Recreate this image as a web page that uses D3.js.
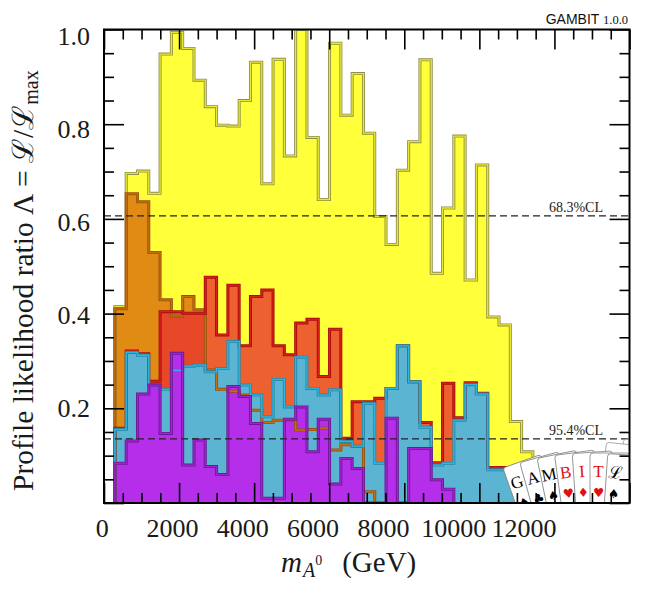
<!DOCTYPE html>
<html><head><meta charset="utf-8">
<script src="https://cdn.jsdelivr.net/npm/d3@7"></script>
<style>body{margin:0;background:#fff} svg{display:block}</style>
</head><body>
<script>
// ---- data ----
const binStart = 290, binWidth = 301;   // GeV, histogram binning
const yellow = [0.415,0.696,0.701,0.654,0.948,0.994,0.960,0.893,0.837,0.798,0.796,0.850,0.931,0.674,0.937,0.733,1.000,0.772,0.641,0.971,0.819,0.907,0.781,0.605,0.546,0.703,0.763,0.936,0.485,0.623,0.775,0.471,0.714,0.393,0.376,0.172,0.108];
const orange = [0.410,0.653,0.636,0.529,0.429,0.395,0.436,0.408,0.281,0.240,0.236,0.228,0.196,0.170,0.175,0.175,0.154,0.155,0.158,0.112,0.123,0.120,0.024,0,0,0,0,0,0,0,0,0,0,0,0,0,0];
const red    = [0.158,0.321,0.315,0.257,0.404,0.404,0.401,0.401,0.477,0.355,0.460,0.332,0.436,0.450,0.332,0.313,0.380,0.388,0.267,0.367,0.137,0.214,0.214,0.221,0.242,0.332,0.256,0.170,0.085,0.253,0.180,0.254,0.232,0.075,0.075,0.042,0];
const blue   = [0.155,0.318,0.312,0.250,0.240,0.280,0.289,0.291,0.277,0.284,0.341,0.249,0.228,0.182,0.261,0.203,0.308,0.242,0.228,0.239,0.130,0.120,0.210,0.084,0.242,0.332,0.256,0.160,0.080,0.084,0.175,0.250,0.230,0.070,0.070,0.040,0];
const purple = [0.084,0.131,0.230,0.249,0.147,0.316,0.080,0.133,0.077,0.060,0.246,0.225,0.168,0.010,0.010,0.177,0.203,0.108,0.177,0.040,0.094,0.073,0,0,0.179,0,0.115,0.115,0.049,0.029,0,0,0,0,0,0,0];
const xMajorTicks = [0,2000,4000,6000,8000,10000,12000,14000];
const xLabels = [0,2000,4000,6000,8000,10000,12000];
const yMajorTicks = [0,0.2,0.4,0.6,0.8,1.0];
const yLabels = [0.2,0.4,0.6,0.8,1.0];
const clLevels = [0.6065,0.1353];
const clNames = ["68.3%CL","95.4%CL"];
const cardLetters = ["G","A","M","B","I","T","ℒ"];
const cardSuits = ["♠","♣","♠","♥","♦","♥","♠"];
const cardRed = [false,false,false,true,true,true,false];

// ---- layout ----
const W = 650, H = 600;
const L = 104, R = 629.5, T = 29.5, B = 503;
const x = d3.scaleLinear().domain([0,14000]).range([L,R]);
const y = d3.scaleLinear().domain([0,1]).range([B,T]);
const xLab = d3.scaleLinear().domain([0,12000]).range([101.7,523.5]);
const yLab = d3.scaleLinear().domain([0,1]).range([500,35]);

const svg = d3.select("body").append("svg").attr("width",W).attr("height",H);
svg.append("defs").append("clipPath").attr("id","clip")
  .append("rect").attr("x",L).attr("y",T).attr("width",R-L).attr("height",B-T);
const plot = svg.append("g").attr("clip-path","url(#clip)");

function edge(i){ return binStart + binWidth*i; }
function histPath(vals){
  let first = vals.findIndex(v=>v>0);
  let last = vals.length-1; while(last>0 && !(vals[last]>0)) last--;
  const pts = [[x(edge(first)), y(0)]];
  for(let i=first;i<=last;i++){ pts.push([x(edge(i)), y(vals[i])]); pts.push([x(edge(i+1)), y(vals[i])]); }
  pts.push([x(edge(last+1)), y(0)]);
  return d3.line()(pts);
}
const series = [
  {v:yellow, fill:"#ffff3a", op:1,    s1:"#8f8f4a", s2:"#e8e830"},
  {v:orange, fill:"#e08c14", op:1,    s1:"#96500e", s2:"#c8700e"},
  {v:red,    fill:"#e8352e", op:0.78, s1:"#a80c0c", s2:"#d8201c"},
  {v:blue,   fill:"#5ab4d2", op:1,    s1:"#2c86a6", s2:"#2cb6e0"},
  {v:purple, fill:"#b52eea", op:1,    s1:"#6c1896", s2:"#9c26cc"}
];
series.forEach(s=>{
  plot.append("path").attr("d",histPath(s.v)).attr("fill",s.fill).attr("fill-opacity",s.op).attr("stroke","none");
});
series.forEach(s=>{
  plot.append("path").attr("d",histPath(s.v)).attr("fill","none").attr("stroke",s.s1).attr("stroke-width",3).attr("stroke-linejoin","miter");
  plot.append("path").attr("d",histPath(s.v)).attr("fill","none").attr("stroke",s.s2).attr("stroke-width",1.3).attr("stroke-linejoin","miter");
});

// CL lines
clLevels.forEach((c,i)=>{
  plot.append("line").attr("x1",L).attr("x2",R).attr("y1",y(c)).attr("y2",y(c))
    .attr("stroke","#222").attr("stroke-width",1.3).attr("stroke-dasharray","7,4");
  svg.append("text").attr("x",603).attr("y",y(c)-4).attr("text-anchor","end")
    .attr("font-family","Liberation Serif").attr("font-size",14).attr("fill","#222").text(clNames[i]);
});

// Logo (fan of cards)
const logo = plot.append("g");
const pivot = [590, 714];
[13,9.5,6].forEach((a,j)=>{
  logo.append("rect").attr("x",-12).attr("y",-282+j*5).attr("width",64).attr("height",300).attr("rx",3)
    .attr("transform",`translate(${pivot}) rotate(${a})`).attr("fill","#fff").attr("stroke","#999").attr("stroke-width",0.8);
});
cardLetters.forEach((c,k)=>{
  const a = -19.5 + k*3.9;
  const g = logo.append("g").attr("transform",`translate(${pivot}) rotate(${a})`);
  g.append("rect").attr("x",0).attr("y",-261).attr("width",40).attr("height",300).attr("rx",3)
    .attr("fill","#fff").attr("stroke","#808080").attr("stroke-width",0.8);
  g.append("text").attr("x",8.5).attr("y",-237).attr("font-family","Liberation Serif").attr("font-size",17)
    .attr("fill",cardRed[k]?"#e01010":"#000").attr("text-anchor","middle").text(c);
  g.append("text").attr("x",8.5).attr("y",-217).attr("font-family","DejaVu Sans").attr("font-size",12.5)
    .attr("fill",cardRed[k]?"#e01010":"#000").attr("text-anchor","middle").text(cardSuits[k]);
});

// axes ticks
const xMinor = d3.range(0,14001,500).filter(v=>v%2000!==0);
const yMinor = d3.range(0,1.0001,0.05).filter(v=>Math.abs(v*5-Math.round(v*5))>1e-6);
function tickGroup(axisFn, scale, vals, size, tx, ty){
  const g = svg.append("g").attr("transform",`translate(${tx},${ty})`)
    .call(axisFn(scale).tickValues(vals).tickSize(size).tickFormat(""));
  g.select(".domain").remove();
  g.selectAll(".tick line").attr("stroke","#000").attr("stroke-width",1.6);
}
tickGroup(d3.axisBottom, x, xMajorTicks, -20, 0, B);
tickGroup(d3.axisBottom, x, xMinor, -10, 0, B);
tickGroup(d3.axisTop, x, xMajorTicks, -20, 0, T);
tickGroup(d3.axisTop, x, xMinor, -10, 0, T);
tickGroup(d3.axisLeft, y, yMajorTicks, -20, L, 0);
tickGroup(d3.axisLeft, y, yMinor, -10, L, 0);
tickGroup(d3.axisRight, y, yMajorTicks, -20, R, 0);
tickGroup(d3.axisRight, y, yMinor, -10, R, 0);

svg.append("rect").attr("x",L).attr("y",T).attr("width",R-L).attr("height",B-T)
  .attr("fill","none").attr("stroke","#000").attr("stroke-width",2);

// tick labels
const gxl = svg.append("g").attr("transform",`translate(0,${B})`)
  .call(d3.axisBottom(xLab).tickValues(xLabels).tickSize(0).tickPadding(0).tickFormat(d3.format("d")));
gxl.select(".domain").remove();
gxl.selectAll("text").attr("font-family","Liberation Serif").attr("font-size",26).attr("fill","#1a1a1a")
  .attr("dy",null).attr("y",33.5);
const gyl = svg.append("g").attr("transform",`translate(90,0)`)
  .call(d3.axisLeft(yLab).tickValues(yLabels).tickSize(0).tickPadding(0).tickFormat(d3.format(".1f")));
gyl.select(".domain").remove();
gyl.selectAll("text").attr("font-family","Liberation Serif").attr("font-size",26).attr("fill","#1a1a1a")
  .attr("dy","0.35em").attr("x",0);

// axis titles
const xt = svg.append("text").attr("x",281).attr("y",572).attr("text-anchor","start")
  .attr("font-family","Liberation Serif").attr("font-size",29).attr("fill","#1a1a1a");
xt.append("tspan").attr("font-style","italic").text("m");
xt.append("tspan").attr("font-style","italic").attr("font-size",20).attr("dy",5).attr("dx",1).text("A");
xt.append("tspan").attr("font-size",14).attr("dy",-12).text("0");
xt.append("tspan").attr("dy",7).attr("dx",20).text("(GeV)");

const yt = svg.append("text").attr("transform","translate(32.5,491) rotate(-90)").attr("text-anchor","start")
  .attr("font-family","Liberation Serif").attr("font-size",29.5).attr("fill","#1a1a1a");
yt.append("tspan").text("Profile likelihood ratio Λ = ℒ/ℒ");
yt.append("tspan").attr("font-size",20).attr("dy",5).text("max");

// GAMBIT tag
const gt = svg.append("text").attr("x",628).attr("y",24).attr("text-anchor","end").attr("fill","#111");
gt.append("tspan").attr("font-family","Liberation Sans").attr("font-size",14).text("GAMBIT ");
gt.append("tspan").attr("font-family","Liberation Serif").attr("font-size",12.5).text("1.0.0");
</script>
</body></html>
